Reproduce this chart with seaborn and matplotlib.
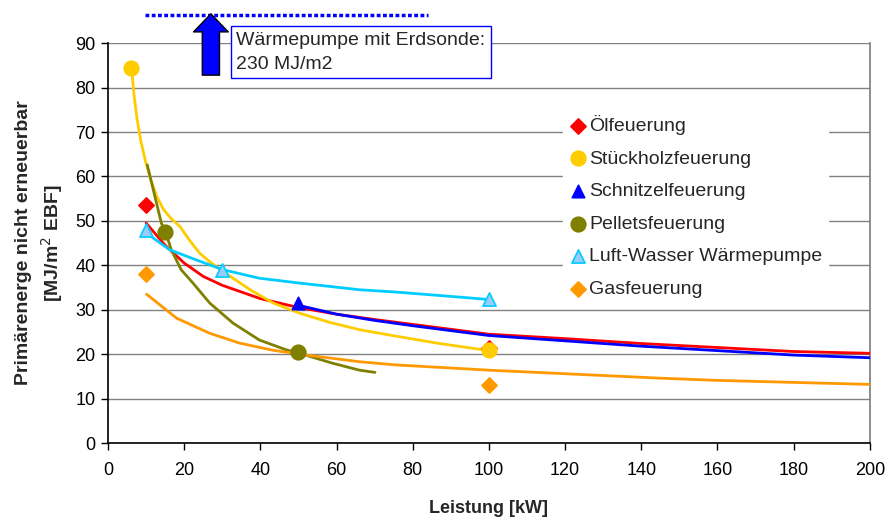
import matplotlib
matplotlib.use("Agg")
import matplotlib.pyplot as plt
import seaborn as sns

sns.set_theme(style="white")
plt.rcParams['font.family'] = ['Liberation Sans', 'DejaVu Sans']

# ---- data: curves ----
oel_curve_x = [10, 15, 20, 25, 30, 40, 50, 60, 70, 80, 90, 100, 120, 140, 160, 180, 200]
oel_curve_y = [49.5, 44.5, 40.5, 37.5, 35.5, 32.5, 30.5, 29.0, 27.8, 26.7, 25.6, 24.5, 23.5, 22.4, 21.5, 20.6, 20.2]

schnitzel_curve_x = [50, 60, 70, 80, 90, 100, 120, 140, 160, 180, 200]
schnitzel_curve_y = [31.0, 29.0, 27.6, 26.4, 25.3, 24.2, 23.0, 21.8, 20.8, 19.8, 19.2]

holz_curve_x = [6.2, 6.8, 7.6, 8.6, 9.8, 11.2, 12.8, 14.6, 16.6, 18.9, 21.5, 24.1, 27.0, 30.0, 33.5, 37.3, 43.4, 50.4, 58.0, 66.1, 75.3, 87.0, 100]
holz_curve_y = [84.4, 78.5, 73.0, 68.0, 63.5, 59.3, 55.5, 52.5, 50.5, 48.7, 45.5, 42.7, 40.6, 38.7, 36.7, 34.5, 31.5, 29.2, 27.2, 25.5, 24.1, 22.4, 20.8]

pellets_curve_x = [10.3, 12.3, 14.0, 15.2, 16.6, 19.2, 22.3, 26.7, 32.8, 39.7, 46.7, 50.3, 58.8, 66.0, 70.1]
pellets_curve_y = [62.6, 55.5, 49.5, 47.2, 43.5, 39.0, 36.0, 31.5, 27.0, 23.2, 21.0, 20.2, 18.0, 16.4, 15.9]

lw_curve_x = [10.1, 16.2, 23.2, 30.2, 39.7, 50.3, 66.0, 75.3, 90, 100]
lw_curve_y = [47.2, 43.5, 41.2, 39.0, 37.1, 36.0, 34.5, 34.0, 33.0, 32.3]

gas_curve_x = [10.1, 18.0, 26.7, 34.5, 43.2, 50.3, 66.0, 75.3, 100, 145, 160, 200]
gas_curve_y = [33.5, 28.1, 24.7, 22.5, 20.9, 20.0, 18.3, 17.6, 16.4, 14.6, 14.1, 13.2]

# ---- data: measured points ----
oel_x, oel_y = [10, 100], [53.5, 21.5]
holz_x, holz_y = [6, 100], [84.5, 21.0]
schnitzel_x, schnitzel_y = [50], [31.5]
pellets_x, pellets_y = [15, 50], [47.5, 20.5]
lw_x, lw_y = [10, 30, 100], [48.0, 39.0, 32.5]
gas_x, gas_y = [10, 100], [38.0, 13.0]

series_names = ["Ölfeuerung", "Stückholzfeuerung", "Schnitzelfeuerung",
                "Pelletsfeuerung", "Luft-Wasser Wärmepumpe", "Gasfeuerung"]

x_ticks = list(range(0, 201, 20))
y_ticks = list(range(0, 91, 10))

erdsonde_x = [9.7, 84]
erdsonde_y = [96.4, 96.4]

fig = plt.figure(figsize=(8.93, 5.2), dpi=100)
ax = fig.add_axes([0.121, 0.148, 0.853, 0.769])

curves = [
    (oel_curve_x, oel_curve_y, "#FF0000"),
    (holz_curve_x, holz_curve_y, "#FFCC00"),
    (pellets_curve_x, pellets_curve_y, "#808000"),
    (lw_curve_x, lw_curve_y, "#00CCFF"),
    (gas_curve_x, gas_curve_y, "#FF9900"),
    (schnitzel_curve_x, schnitzel_curve_y, "#0000FF"),
]
for cx, cy, col in curves:
    sns.lineplot(x=cx, y=cy, color=col, lw=2.0, ax=ax, legend=False, sort=False, zorder=3)

points = [
    (oel_x, oel_y, "#FF0000", "#FF0000", "D", 60),
    (holz_x, holz_y, "#FFCC00", "#FFCC00", "o", 110),
    (schnitzel_x, schnitzel_y, "#0000FF", "#0000FF", "^", 80),
    (pellets_x, pellets_y, "#808000", "#808000", "o", 110),
    (lw_x, lw_y, "#99CCFF", "#00CCFF", "^", 90),
    (gas_x, gas_y, "#FF9900", "#FF9900", "D", 60),
]
for (px, py, fc, ec, mk, s), name in zip(points, series_names):
    sns.scatterplot(x=px, y=py, color=fc, edgecolor=ec, linewidth=1.2, marker=mk, s=s,
                    ax=ax, label=name, zorder=4)

ax.set_xlim(0, 200)
ax.set_ylim(0, 90)
ax.set_xticks(x_ticks)
ax.set_yticks(y_ticks)
ax.tick_params(axis='both', labelsize=13, colors='black', direction='out', length=5, width=1,
               bottom=True, left=True, pad=4)
ax.tick_params(axis='x', pad=9)
ax.yaxis.grid(True, color='#808080', lw=1)
ax.set_axisbelow(True)
for side in ['left', 'bottom']:
    ax.spines[side].set_color('black')
    ax.spines[side].set_linewidth(1.2)
ax.spines['right'].set_color('#808080')
ax.spines['top'].set_visible(False)

ax.set_xlabel("Leistung [kW]", fontsize=13, fontweight='bold', va='top')
ax.xaxis.set_label_coords(0.5, -0.143)
ax.set_ylabel("Primärenerge nicht erneuerbar\n[MJ/m$^2$ EBF]", fontsize=14,
              fontweight='bold', linespacing=1.4)
ax.yaxis.set_label_coords(-0.056, 0.5)

leg = ax.legend(loc='upper left', bbox_to_anchor=(0.597, 0.835), frameon=True, fontsize=14,
                handletextpad=0.05, borderaxespad=0, labelspacing=0.77, handlelength=1.0,
                borderpad=0.3, scatterpoints=1)
leg.get_frame().set_edgecolor('white')
leg.get_frame().set_facecolor('white')
leg.get_frame().set_alpha(1)
leg.get_frame().set_boxstyle('square', pad=0)

# annotation: Erdsonde
ax.plot(erdsonde_x, erdsonde_y, color='#0000FF', lw=2.5, linestyle=(0, (1.1, 0.7)),
        clip_on=False, zorder=5)
ax.annotate('', xy=(27, 96.6), xytext=(27, 82.8), annotation_clip=False,
            arrowprops=dict(arrowstyle='simple,head_length=0.65,head_width=1.25,tail_width=0.62',
                            fc='#0000FF', ec='black', lw=1, mutation_scale=20,
                            shrinkA=0, shrinkB=0), zorder=6)
ax.text(33.7, 92.6, "Wärmepumpe mit Erdsonde:\n230 MJ/m2", fontsize=14, ha='left', va='top',
        linespacing=1.55, clip_on=False, zorder=6,
        bbox=dict(boxstyle='square,pad=0.28', fc='white', ec='#0000FF', lw=1))

fig.savefig("out.png", dpi=100)
